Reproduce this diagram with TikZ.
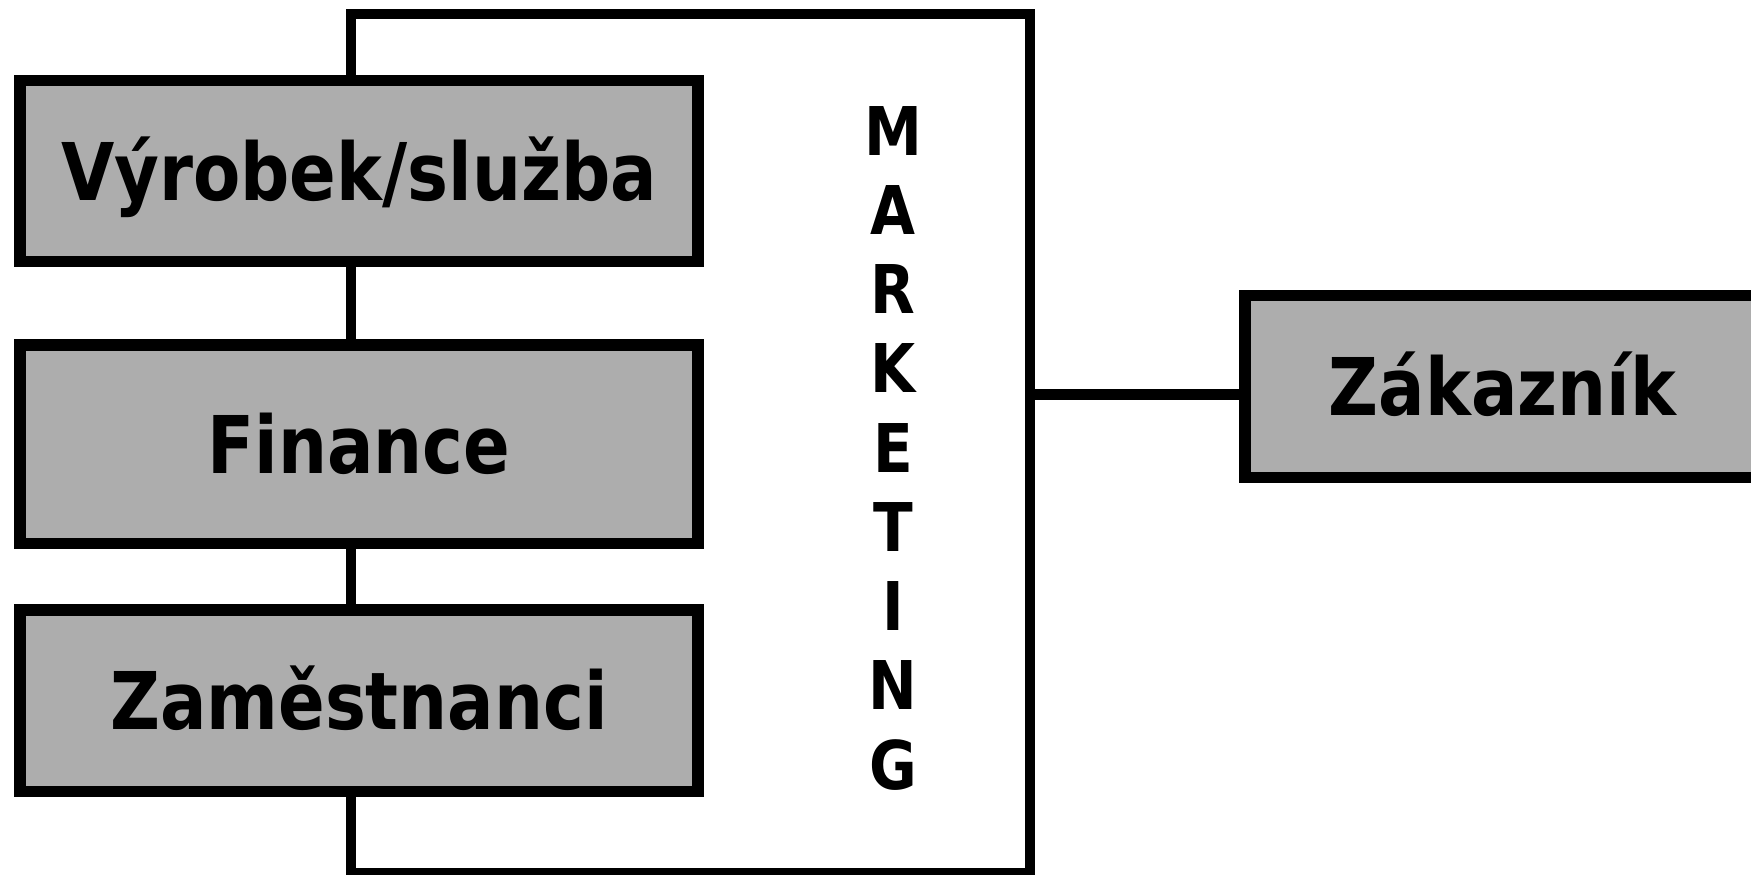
\documentclass[tikz,border=0pt]{standalone}
\usepackage{fontspec}
\setmainfont{DejaVu Sans}[FakeStretch=0.865]
\definecolor{boxgray}{RGB}{173,173,173}
\tikzset{
  dept/.style={draw, line width=5.6pt, fill=boxgray, inner sep=0pt,
    minimum width=339pt, font=\fontsize{39.8pt}{40pt}\selectfont\bfseries,
    text height=29pt, text depth=0pt},
  frame/.style={draw, line width=5pt, inner sep=0pt,
    minimum width=339.5pt, minimum height=429.5pt},
  letter/.style={anchor=base, inner sep=0pt,
    font=\fontsize{33.6pt}{34pt}\selectfont\bfseries},
  link/.style={line width=5.4pt}
}
\begin{document}
\begin{tikzpicture}[x=0.5pt,y=-0.5pt]
        \clip (0,0) rectangle (1751,874);

        \node[frame] (mkt) at (690.5,443) {};
        \foreach \l [count=\i from 0] in {M,A,R,K,E,T,I,N,G}
          \node[letter] (mk\i) at (893,155+79.25*\i) {\l};

        \node[dept, minimum height=90.6pt] (vyrobek) at (359,171.1) {Výrobek/služba};
        \node[dept, minimum height=99.3pt] (finance) at (359,444.2) {Finance};
        \node[dept, minimum height=90.9pt] (zamest) at (359,700.9) {Zaměstnanci};

        \node[dept, minimum width=257.5pt, minimum height=91pt] (zakaznik)
          at (1502.5,386.3) {Zákazník};

        \coordinate (lvl) at (0,394.5);
        \draw[link] (mkt.east |- lvl) -- (zakaznik.west |- lvl);
      \end{tikzpicture}
\end{document}
